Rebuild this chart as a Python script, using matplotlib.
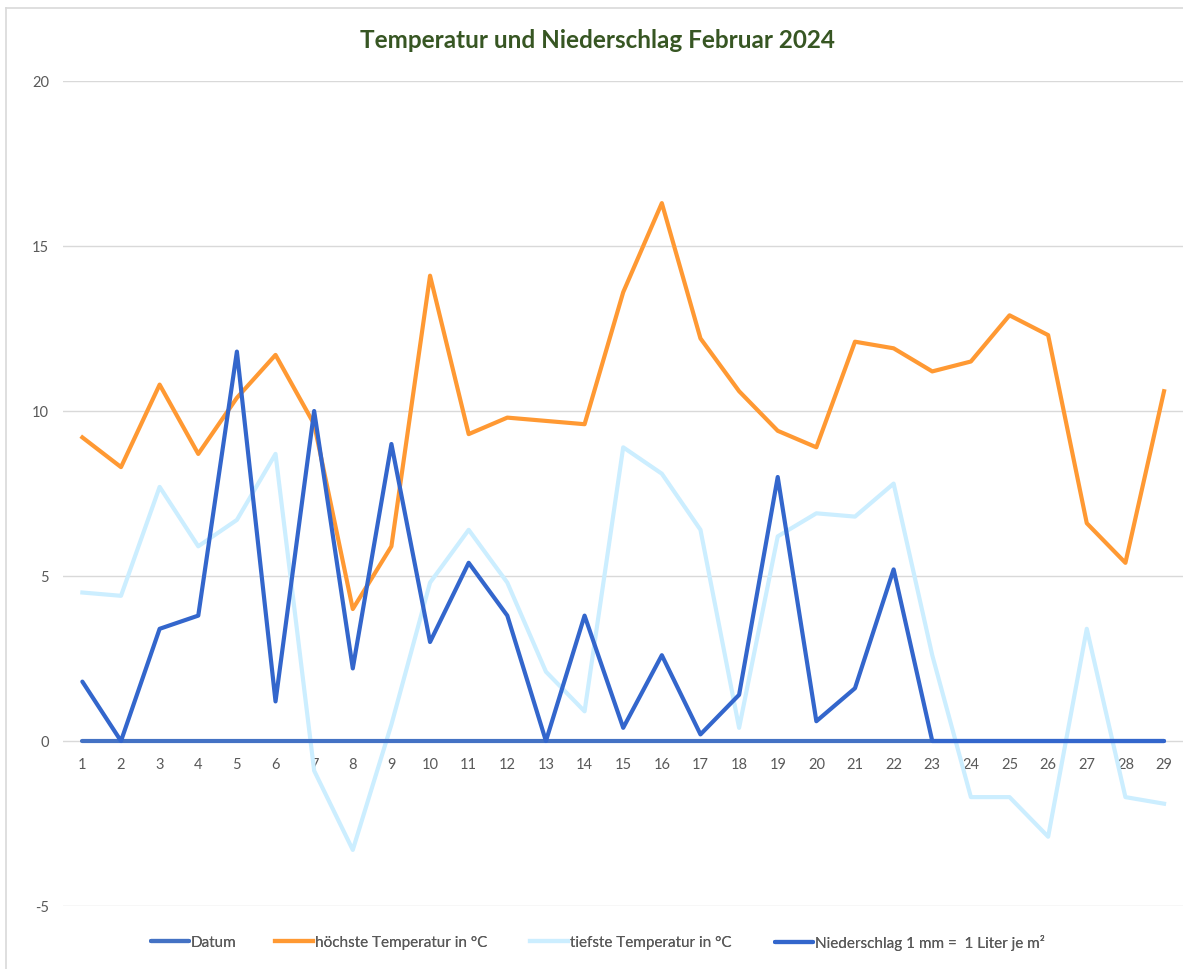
import matplotlib.pyplot as plt
from matplotlib.lines import Line2D

# Schrift ähnlich wie Calibri
plt.rcParams["font.family"] = ["Lato", "DejaVu Sans"]
plt.rcParams["axes.unicode_minus"] = False

# Daten Februar 2024
tage = list(range(1, 30))
datum = [0] * 29
hoechste = [9.2, 8.3, 10.8, 8.7, 10.4, 11.7, 9.6, 4.0, 5.9, 14.1,
            9.3, 9.8, 9.7, 9.6, 13.6, 16.3, 12.2, 10.6, 9.4, 8.9,
            12.1, 11.9, 11.2, 11.5, 12.9, 12.3, 6.6, 5.4, 10.6]
tiefste = [4.5, 4.4, 7.7, 5.9, 6.7, 8.7, -0.9, -3.3, 0.5, 4.8,
           6.4, 4.8, 2.1, 0.9, 8.9, 8.1, 6.4, 0.4, 6.2, 6.9,
           6.8, 7.8, 2.6, -1.7, -1.7, -2.9, 3.4, -1.7, -1.9]
niederschlag = [1.8, 0, 3.4, 3.8, 11.8, 1.2, 10.0, 2.2, 9.0, 3.0,
                5.4, 3.8, 0, 3.8, 0.4, 2.6, 0.2, 1.4, 8.0, 0.6,
                1.6, 5.2, 0, 0, 0, 0, 0, 0, 0]
y_ticks = [-5, 0, 5, 10, 15, 20]

fig = plt.figure(figsize=(11.83, 9.69), dpi=100)
ax = fig.add_axes([0.0533, 0.065, 0.947, 0.8514])

# Rahmen des Diagramms
fig.add_artist(Line2D([6 / 1183, 6 / 1183], [0, 1 - 8 / 969], transform=fig.transFigure,
                      color="#d9d9d9", lw=1.2))
fig.add_artist(Line2D([6 / 1183, 1], [1 - 8 / 969, 1 - 8 / 969], transform=fig.transFigure,
                      color="#d9d9d9", lw=1.2))

ax.plot(tage, hoechste, color="#ff9933", lw=3, label="höchste Temperatur in °C", zorder=3)
ax.plot(tage, tiefste, color="#cceeff", lw=3, label="tiefste Temperatur in °C", zorder=2)
ax.plot(tage, datum, color="#4472c4", lw=3, label="Datum", zorder=4, solid_capstyle="round")
ax.plot(tage, niederschlag, color="#3366cc", lw=3, label="Niederschlag 1 mm =  1 Liter je m²",
        zorder=5, solid_capstyle="round")

ax.set_xlim(0.5, 29.5)
ax.set_ylim(-5, 20)
ax.set_yticks(y_ticks)
ax.set_xticks(tage)
ax.grid(axis="y", color="#d9d9d9", lw=1)
ax.set_axisbelow(True)
# x-Beschriftung direkt unter der Nulllinie
ax.spines["bottom"].set_position(("data", 0))
for s in ax.spines.values():
    s.set_visible(False)
ax.tick_params(length=0, colors="#595959", labelsize=10.5)
ax.tick_params(axis="y", pad=10)
ax.tick_params(axis="x", pad=12)

fig.text(0.505, 0.958, "Temperatur und Niederschlag Februar 2024", ha="center", va="center",
         fontsize=17.5, fontweight="bold", color="#375623")

# Legende wie in Excel: Einträge einzeln platziert
handles, labels = ax.get_legend_handles_labels()
order = [2, 0, 1, 3]
leg_x = [0.1276, 0.2325, 0.4480, 0.6551]
for i, x in zip(order, leg_x):
    leg = fig.legend([handles[i]], [labels[i]], loc="center left",
                     bbox_to_anchor=(x, 0.027), frameon=False, fontsize=11,
                     labelcolor="#595959", handlelength=2.5, handletextpad=0.1,
                     borderpad=0, borderaxespad=0)
    fig.add_artist(leg)

plt.savefig("out.png")
